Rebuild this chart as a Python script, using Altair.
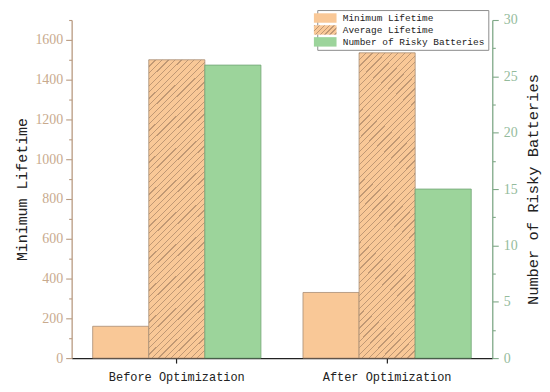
import altair as alt
import pandas as pd

# ---- data ----
groups = ["Before Optimization", "After Optimization"]
series = ["Minimum Lifetime", "Average Lifetime", "Number of Risky Batteries"]
min_lifetime = [160, 330]
avg_lifetime = [1500, 1535]
risky_batteries = [26, 15]

left_ticks = list(range(0, 1701, 100))      # labels every 200, minor every 100
right_ticks = [0, 2.5, 5, 7.5, 10, 12.5, 15, 17.5, 20, 22.5, 25, 27.5, 30]

rows = []
for g, a, b, c in zip(groups, min_lifetime, avg_lifetime, risky_batteries):
    rows.append({"group": g, "series": series[0], "value": a})
    rows.append({"group": g, "series": series[1], "value": b})
    rows.append({"group": g, "series": series[2], "value": c})
df = pd.DataFrame(rows)

# ---- style ----
ORANGE = "#F9C897"
ORANGE_EDGE = "#A88D76"
HATCH = "#C09874"
GREEN = "#9CD49B"
GREEN_EDGE = "#72A476"
TAN = "#B89A80"
TAN_LABEL = "#C8AA8E"
GRN_AXIS = "#7FA887"
GRN_LABEL = "#94BB9C"
FONT_MONO = "Liberation Mono"
FONT_SERIF = "Liberation Serif"


def hatch_gradient(w, h, period_px, line_px):
    """Diagonal '/' stripes drawn with a hard-stop linear gradient (bbox units)."""
    D = w + h
    den = w * w + h * h
    x2 = w * D / den
    y2 = h * D / den
    p = period_px / D
    lw = line_px / D
    stops = []
    k = 0
    while k * p < 1:
        o = k * p
        stops.append({"offset": round(min(o, 1), 5), "color": HATCH})
        stops.append({"offset": round(min(o + lw, 1), 5), "color": HATCH})
        stops.append({"offset": round(min(o + lw, 1), 5), "color": ORANGE})
        stops.append({"offset": round(min(o + p, 1), 5), "color": ORANGE})
        k += 1
    return {"gradient": "linear", "x1": 0, "y1": 0, "x2": round(x2, 5), "y2": round(y2, 5), "stops": stops}


def gradient_expr(g):
    stops = ",".join("{offset:%s,color:'%s'}" % (s["offset"], s["color"]) for s in g["stops"])
    return "{gradient:'linear',x1:0,y1:0,x2:%s,y2:%s,stops:[%s]}" % (g["x2"], g["y2"], stops)


bar_hatch = hatch_gradient(56.4, 303, 6.5, 1.2)
legend_hatch = hatch_gradient(22.8, 9.5, 5.0, 1.1)

x_enc = alt.X(
    "group:N",
    sort=groups,
    scale=alt.Scale(paddingInner=0.2, paddingOuter=0.1),
    axis=alt.Axis(
        title=None,
        labelAngle=0,
        labelFont=FONT_MONO,
        labelFontSize=12,
        labelColor="#222222",
        labelPadding=9,
        domainColor="#222222",
        domainWidth=1.4,
        tickColor="#222222",
        tickSize=5,
        tickWidth=1.2,
        grid=False,
    ),
)
xoff_enc = alt.XOffset("series:N", sort=series, scale=alt.Scale(domain=series, paddingInner=0, paddingOuter=0))

left_axis = alt.Axis(
    values=left_ticks,
    format="d",
    labelExpr="datum.value % 200 == 0 ? datum.label : ''",
    tickSize={"condition": {"test": "datum.value % 200 != 0", "value": 3}, "value": 6},
    domainColor=TAN,
    domainWidth=1.3,
    tickColor=TAN,
    tickWidth=1.1,
    labelColor=TAN_LABEL,
    labelFont=FONT_SERIF,
    labelFontSize=14,
    labelPadding=3,
    title="Minimum Lifetime",
    titleFont=FONT_MONO,
    titleFontSize=15,
    titleFontWeight="normal",
    titleColor="#222222",
    titlePadding=5,
    grid=False,
)

right_axis = alt.Axis(
    orient="right",
    values=right_ticks,
    format="~g",
    labelExpr="datum.value % 5 == 0 ? datum.label : ''",
    tickSize={"condition": {"test": "datum.value % 5 != 0", "value": 3}, "value": 6},
    domainColor=GRN_AXIS,
    domainWidth=1.3,
    tickColor=GRN_AXIS,
    tickWidth=1.1,
    labelColor=GRN_LABEL,
    labelFont=FONT_SERIF,
    labelFontSize=14,
    labelPadding=5,
    title="Number of Risky Batteries",
    titleFont=FONT_MONO,
    titleFontSize=15.5,
    titleFontWeight="normal",
    titleColor="#222222",
    titleAngle=270,
    titleBaseline="top",
    titlePadding=8,
    grid=False,
)

legend = alt.Legend(
    title=None,
    orient="none",
    legendX=247,
    legendY=-10,
    symbolType="M-2.4,-1H2.4V1H-2.4Z",
    symbolSize=90,
    symbolStrokeWidth=0,
    labelFont=FONT_MONO,
    labelFontSize=9.5,
    labelColor="#222222",
    labelOffset=12.6,
    rowPadding=2,
    padding=3,
    strokeColor="#8C8C8C",
    fillColor="white",
)

color_enc = alt.Color(
    "series:N",
    scale=alt.Scale(domain=series, range=[ORANGE, {"expr": gradient_expr(legend_hatch)}, GREEN]),
    legend=legend,
)

base = alt.Chart(df)

min_bars = base.transform_filter(alt.datum.series == series[0]).mark_bar(
    stroke=ORANGE_EDGE, strokeWidth=0.8
).encode(
    x=x_enc,
    xOffset=xoff_enc,
    y=alt.Y("value:Q", scale=alt.Scale(domain=[0, 1700], nice=False), axis=left_axis),
    color=color_enc,
)

avg_bars = base.transform_filter(alt.datum.series == series[1]).mark_bar(
    fill=bar_hatch, stroke=ORANGE_EDGE, strokeWidth=0.8
).encode(
    x=x_enc,
    xOffset=xoff_enc,
    y=alt.Y("value:Q", scale=alt.Scale(domain=[0, 1700], nice=False), axis=None),
)

risky_bars = base.transform_filter(alt.datum.series == series[2]).mark_bar(
    stroke=GREEN_EDGE, strokeWidth=0.8
).encode(
    x=x_enc,
    xOffset=xoff_enc,
    y=alt.Y("value:Q", scale=alt.Scale(domain=[0, 30], nice=False), axis=right_axis),
    color=color_enc,
)

chart = (
    alt.layer(min_bars, avg_bars, risky_bars)
    .resolve_scale(y="independent")
    .properties(
        width=423,
        height=340,
        autosize=alt.AutoSizeParams(type="none"),
        padding={"left": 64, "top": 11, "right": 50, "bottom": 30},
        background="white",
    )
    .configure_view(stroke=None)
)

chart.save("out.html", embed_options={"renderer": "svg", "actions": False})
